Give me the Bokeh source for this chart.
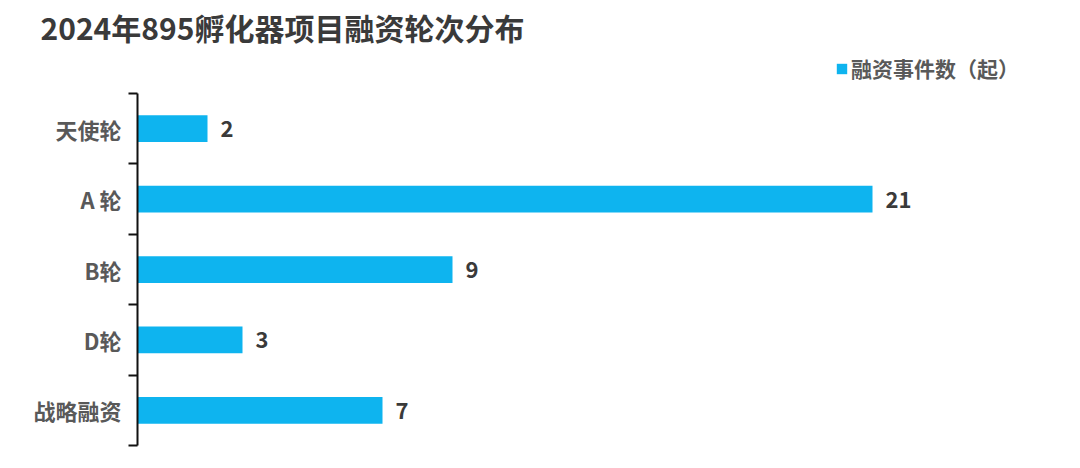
from bokeh.plotting import figure
from bokeh.models import Range1d, FixedTicker, Legend, LegendItem, ColumnDataSource
from bokeh.core.properties import value
from bokeh.embed import file_html
from bokeh.resources import INLINE

title_text = "2024年895孵化器项目融资轮次分布"
categories = ["天使轮", "A 轮", "B轮", "D轮", "战略融资"]
counts = [2, 21, 9, 3, 7]
series_name = "融资事件数（起）"

FONT = "Noto Sans CJK SC"
BAR = "#0EB4EF"

n = len(categories)
centers = [n - 0.5 - i for i in range(n)]
bounds = [float(i) for i in range(n + 1)]

src = ColumnDataSource(dict(cat=categories, y=centers, v=counts,
                            lbl=[str(c) for c in counts]))

p = figure(width=1064, height=452, output_backend="svg", toolbar_location=None,
           x_range=Range1d(0, 25.8), y_range=Range1d(0, n + 0.64),
           min_border_left=137, min_border_right=24, min_border_top=48,
           min_border_bottom=7)
p.outline_line_color = None
p.xgrid.visible = False
p.ygrid.visible = False
p.xaxis.visible = False

p.title.text = title_text
p.title.text_font = FONT
p.title.text_font_size = "30px"
p.title.text_font_style = "bold"
p.title.text_color = "#3a3a3a"
p.title.offset = -97
p.title.standoff = 0

r = p.hbar(y="y", left=0, right="v", height=0.38, source=src,
           fill_color=BAR, line_color=None)

p.text(x="v", y="y", text="lbl", source=src, x_offset=13,
       text_baseline="middle", text_align="left",
       text_font=value(FONT), text_font_size="22px", text_font_style="bold",
       text_color="#3a3a3a")

ax = p.yaxis[0]
ax.bounds = (0, n)
ax.ticker = FixedTicker(ticks=centers, minor_ticks=bounds)
ax.major_label_overrides = {c: name for c, name in zip(centers, categories)}
ax.major_tick_line_color = None
ax.major_tick_out = 0
ax.major_tick_in = 0
ax.minor_tick_out = 9
ax.minor_tick_in = 0
ax.minor_tick_line_color = "#111111"
ax.minor_tick_line_width = 2
ax.axis_line_color = "#111111"
ax.axis_line_width = 2
ax.major_label_standoff = 7
ax.major_label_text_font = FONT
ax.major_label_text_font_size = "22px"
ax.major_label_text_font_style = "bold"
ax.major_label_text_color = "#595959"

legend = Legend(items=[LegendItem(label=series_name, renderers=[r])],
                location=(698, 362), orientation="horizontal",
                glyph_width=13, glyph_height=13, label_standoff=3,
                padding=0, margin=0, border_line_color=None,
                background_fill_alpha=0,
                label_text_font=FONT, label_text_font_size="21px",
                label_text_font_style="bold", label_text_color="#595959")
p.add_layout(legend, "center")

open("out.html", "w").write(file_html(p, INLINE))
